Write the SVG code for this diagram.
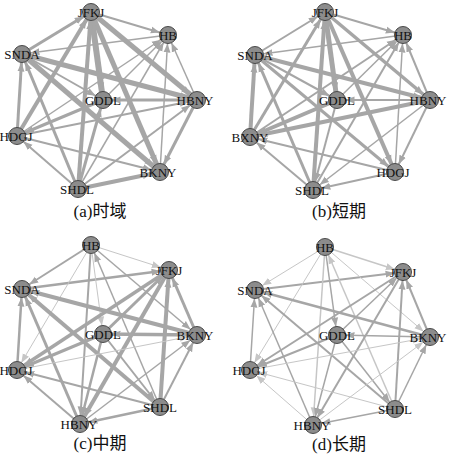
<svg xmlns="http://www.w3.org/2000/svg" width="450" height="454" viewBox="0 0 450 454">
<defs>
<style>
.e{stroke:#a6a6a6;fill:none;marker-end:url(#ar)}
.l{stroke:#c6c6c6;fill:none;marker-end:url(#al)}
.w1{stroke-width:1}.w15{stroke-width:1.5}.w2{stroke-width:2}.w25{stroke-width:2.5}.w3{stroke-width:3}.w35{stroke-width:3.5}.w4{stroke-width:4}.w5{stroke-width:5}.w6{stroke-width:6}
.n circle{fill:#8c8c8c;stroke:#4a4a4a;stroke-width:1}
.n text{font-family:"Liberation Serif","Times New Roman",serif;font-size:13px;fill:#111;text-anchor:middle}
.cap{font-family:"Liberation Serif","Noto Sans CJK SC",serif;font-size:17px;fill:#111;text-anchor:middle}
</style>
<marker id="ar" markerUnits="userSpaceOnUse" markerWidth="10" markerHeight="8" refX="17.5" refY="4" orient="auto"><path d="M0,0.5 L9,4 L0,7.5 z" fill="#a6a6a6"/></marker>
<marker id="al" markerUnits="userSpaceOnUse" markerWidth="10" markerHeight="8" refX="17.5" refY="4" orient="auto"><path d="M0,0.5 L9,4 L0,7.5 z" fill="#c6c6c6"/></marker>
</defs>
<rect width="450" height="454" fill="#fff"/>

<!-- Panel (a) -->
<g id="panel-a">
<g id="edges-a">
<line class="e w3" x1="22" y1="54" x2="91" y2="12"/>
<line class="e w2" x1="91" y1="12" x2="168" y2="35"/>
<line class="e w15" x1="168" y1="35" x2="22" y2="54"/>
<line class="e w5" x1="91" y1="12" x2="197" y2="100"/>
<line class="e w5" x1="91" y1="12" x2="160" y2="172"/>
<line class="e w6" x1="91" y1="12" x2="103" y2="100"/>
<line class="e w4" x1="78" y1="189" x2="91" y2="12"/>
<line class="e w4" x1="17" y1="136" x2="91" y2="12"/>
<line class="e w5" x1="22" y1="54" x2="197" y2="100"/>
<line class="e w5" x1="22" y1="54" x2="160" y2="172"/>
<line class="e w3" x1="78" y1="189" x2="22" y2="54"/>
<line class="e w3" x1="17" y1="136" x2="22" y2="54"/>
<line class="e w2" x1="78" y1="189" x2="17" y2="136"/>
<line class="e w2" x1="17" y1="136" x2="160" y2="172"/>
<line class="e w4" x1="78" y1="189" x2="160" y2="172"/>
<line class="e w3" x1="197" y1="100" x2="160" y2="172"/>
<line class="e w15" x1="160" y1="172" x2="168" y2="35"/>
<line class="e w15" x1="197" y1="100" x2="168" y2="35"/>
<line class="e w15" x1="78" y1="189" x2="168" y2="35"/>
<line class="e w15" x1="17" y1="136" x2="168" y2="35"/>
<line class="e w15" x1="103" y1="100" x2="168" y2="35"/>
<line class="e w2" x1="17" y1="136" x2="197" y2="100"/>
<line class="e w3" x1="197" y1="100" x2="103" y2="100"/>
<line class="e w2" x1="78" y1="189" x2="197" y2="100"/>
<line class="e w3" x1="103" y1="100" x2="17" y2="136"/>
<line class="e w3" x1="78" y1="189" x2="103" y2="100"/>
<line class="e w2" x1="22" y1="54" x2="103" y2="100"/>
</g>
<g id="a-JFKJ" class="n"><circle cx="91" cy="12" r="8.5"/><text x="91" y="17">JFKJ</text></g>
<g id="a-HB" class="n"><circle cx="168" cy="35" r="8.5"/><text x="168" y="40">HB</text></g>
<g id="a-SNDA" class="n"><circle cx="22" cy="54" r="8.5"/><text x="22" y="59">SNDA</text></g>
<g id="a-GDDL" class="n"><circle cx="103" cy="100" r="8.5"/><text x="103" y="105">GDDL</text></g>
<g id="a-HBNY" class="n"><circle cx="197" cy="100" r="8.5"/><text x="195" y="105">HBNY</text></g>
<g id="a-HDGJ" class="n"><circle cx="17" cy="136" r="8.5"/><text x="16" y="141">HDGJ</text></g>
<g id="a-BKNY" class="n"><circle cx="160" cy="172" r="8.5"/><text x="158" y="177">BKNY</text></g>
<g id="a-SHDL" class="n"><circle cx="78" cy="189" r="8.5"/><text x="77" y="194">SHDL</text></g>
<text class="cap" x="100" y="217">(a)时域</text>
</g>

<!-- Panel (b) -->
<g id="panel-b">
<g id="edges-b">
<line class="e w2" x1="255" y1="55" x2="325" y2="12"/>
<line class="e w2" x1="325" y1="12" x2="403" y2="35"/>
<line class="e w15" x1="403" y1="35" x2="255" y2="55"/>
<line class="e w35" x1="325" y1="12" x2="430" y2="100"/>
<line class="e w4" x1="325" y1="12" x2="395" y2="172"/>
<line class="e w5" x1="325" y1="12" x2="337" y2="100"/>
<line class="e w4" x1="313" y1="190" x2="325" y2="12"/>
<line class="e w3" x1="250" y1="137" x2="325" y2="12"/>
<line class="e w4" x1="255" y1="55" x2="430" y2="100"/>
<line class="e w3" x1="255" y1="55" x2="395" y2="172"/>
<line class="e w3" x1="313" y1="190" x2="255" y2="55"/>
<line class="e w4" x1="250" y1="137" x2="255" y2="55"/>
<line class="e w2" x1="313" y1="190" x2="250" y2="137"/>
<line class="e w2" x1="395" y1="172" x2="250" y2="137"/>
<line class="e w2" x1="395" y1="172" x2="313" y2="190"/>
<line class="e w2" x1="430" y1="100" x2="395" y2="172"/>
<line class="e w15" x1="395" y1="172" x2="403" y2="35"/>
<line class="e w2" x1="430" y1="100" x2="403" y2="35"/>
<line class="e w2" x1="313" y1="190" x2="403" y2="35"/>
<line class="e w2" x1="250" y1="137" x2="403" y2="35"/>
<line class="e w4" x1="430" y1="100" x2="250" y2="137"/>
<line class="e w2" x1="430" y1="100" x2="337" y2="100"/>
<line class="e w4" x1="337" y1="100" x2="250" y2="137"/>
<line class="e w15" x1="430" y1="100" x2="313" y2="190"/>
<line class="e w2" x1="337" y1="100" x2="313" y2="190"/>
<line class="e w2" x1="255" y1="55" x2="337" y2="100"/>
<line class="e w15" x1="337" y1="100" x2="403" y2="35"/>
</g>
<g id="b-JFKJ" class="n"><circle cx="325" cy="12" r="8.5"/><text x="325" y="17">JFKJ</text></g>
<g id="b-HB" class="n"><circle cx="403" cy="35" r="8.5"/><text x="403" y="40">HB</text></g>
<g id="b-SNDA" class="n"><circle cx="255" cy="55" r="8.5"/><text x="255" y="60">SNDA</text></g>
<g id="b-GDDL" class="n"><circle cx="337" cy="100" r="8.5"/><text x="337" y="105">GDDL</text></g>
<g id="b-HBNY" class="n"><circle cx="430" cy="100" r="8.5"/><text x="428" y="105">HBNY</text></g>
<g id="b-BXNY" class="n"><circle cx="250" cy="137" r="8.5"/><text x="250" y="142">BXNY</text></g>
<g id="b-HDGJ" class="n"><circle cx="395" cy="172" r="8.5"/><text x="393" y="177">HDGJ</text></g>
<g id="b-SHDL" class="n"><circle cx="313" cy="190" r="8.5"/><text x="312" y="195">SHDL</text></g>
<text class="cap" x="339" y="217">(b)短期</text>
</g>

<!-- Panel (c) -->
<g id="panel-c">
<g id="edges-c">
<line class="l w1" x1="91" y1="245" x2="169" y2="270"/>
<line class="e w2" x1="91" y1="245" x2="22" y2="289"/>
<line class="e w25" x1="22" y1="289" x2="169" y2="270"/>
<line class="e w15" x1="91" y1="245" x2="197" y2="335"/>
<line class="e w15" x1="160" y1="407" x2="91" y2="245"/>
<line class="e w2" x1="91" y1="245" x2="80" y2="424"/>
<line class="l w1" x1="91" y1="245" x2="103" y2="334"/>
<line class="l w1" x1="91" y1="245" x2="17" y2="370"/>
<line class="e w35" x1="169" y1="270" x2="17" y2="370"/>
<line class="e w4" x1="169" y1="270" x2="80" y2="424"/>
<line class="e w4" x1="160" y1="407" x2="169" y2="270"/>
<line class="e w3" x1="197" y1="335" x2="169" y2="270"/>
<line class="e w4" x1="197" y1="335" x2="22" y2="289"/>
<line class="e w4" x1="160" y1="407" x2="22" y2="289"/>
<line class="e w3" x1="80" y1="424" x2="22" y2="289"/>
<line class="e w25" x1="17" y1="370" x2="22" y2="289"/>
<line class="e w35" x1="197" y1="335" x2="103" y2="334"/>
<line class="e w3" x1="103" y1="334" x2="169" y2="270"/>
<line class="e w25" x1="103" y1="334" x2="80" y2="424"/>
<line class="e w2" x1="103" y1="334" x2="160" y2="407"/>
<line class="l w1" x1="17" y1="370" x2="197" y2="335"/>
<line class="e w2" x1="80" y1="424" x2="17" y2="370"/>
<line class="e w2" x1="160" y1="407" x2="17" y2="370"/>
<line class="e w25" x1="160" y1="407" x2="80" y2="424"/>
<line class="e w2" x1="160" y1="407" x2="197" y2="335"/>
<line class="e w15" x1="80" y1="424" x2="197" y2="335"/>
<line class="e w3" x1="103" y1="334" x2="17" y2="370"/>
</g>
<g id="c-HB" class="n"><circle cx="91" cy="245" r="8.5"/><text x="91" y="250">HB</text></g>
<g id="c-JFKJ" class="n"><circle cx="169" cy="270" r="8.5"/><text x="169" y="275">JFKJ</text></g>
<g id="c-SNDA" class="n"><circle cx="22" cy="289" r="8.5"/><text x="22" y="294">SNDA</text></g>
<g id="c-GDDL" class="n"><circle cx="103" cy="334" r="8.5"/><text x="103" y="339">GDDL</text></g>
<g id="c-BKNY" class="n"><circle cx="197" cy="335" r="8.5"/><text x="195" y="340">BKNY</text></g>
<g id="c-HDGJ" class="n"><circle cx="17" cy="370" r="8.5"/><text x="16" y="375">HDGJ</text></g>
<g id="c-SHDL" class="n"><circle cx="160" cy="407" r="8.5"/><text x="160" y="412">SHDL</text></g>
<g id="c-HBNY" class="n"><circle cx="80" cy="424" r="8.5"/><text x="79" y="429">HBNY</text></g>
<text class="cap" x="100" y="449">(c)中期</text>
</g>

<!-- Panel (d) -->
<g id="panel-d">
<g id="edges-d">
<line class="l w15" x1="325" y1="247" x2="403" y2="272"/>
<line class="l w1" x1="325" y1="247" x2="255" y2="290"/>
<line class="e w2" x1="255" y1="290" x2="403" y2="272"/>
<line class="l w1" x1="325" y1="247" x2="430" y2="337"/>
<line class="l w15" x1="395" y1="409" x2="325" y2="247"/>
<line class="l w15" x1="325" y1="247" x2="313" y2="425"/>
<line class="e w15" x1="325" y1="247" x2="337" y2="335"/>
<line class="l w1" x1="325" y1="247" x2="250" y2="370"/>
<line class="e w2" x1="403" y1="272" x2="250" y2="370"/>
<line class="e w2" x1="403" y1="272" x2="313" y2="425"/>
<line class="e w2" x1="395" y1="409" x2="403" y2="272"/>
<line class="e w2" x1="430" y1="337" x2="403" y2="272"/>
<line class="e w25" x1="430" y1="337" x2="255" y2="290"/>
<line class="e w2" x1="395" y1="409" x2="255" y2="290"/>
<line class="e w15" x1="313" y1="425" x2="255" y2="290"/>
<line class="e w15" x1="250" y1="370" x2="255" y2="290"/>
<line class="e w15" x1="430" y1="337" x2="337" y2="335"/>
<line class="e w15" x1="337" y1="335" x2="403" y2="272"/>
<line class="e w15" x1="337" y1="335" x2="313" y2="425"/>
<line class="e w15" x1="337" y1="335" x2="395" y2="409"/>
<line class="l w1" x1="250" y1="370" x2="430" y2="337"/>
<line class="l w1" x1="313" y1="425" x2="250" y2="370"/>
<line class="l w1" x1="395" y1="409" x2="250" y2="370"/>
<line class="e w15" x1="395" y1="409" x2="313" y2="425"/>
<line class="e w15" x1="395" y1="409" x2="430" y2="337"/>
<line class="l w1" x1="313" y1="425" x2="430" y2="337"/>
<line class="e w2" x1="337" y1="335" x2="250" y2="370"/>
</g>
<g id="d-HB" class="n"><circle cx="325" cy="247" r="8.5"/><text x="325" y="252">HB</text></g>
<g id="d-JFKJ" class="n"><circle cx="403" cy="272" r="8.5"/><text x="403" y="277">JFKJ</text></g>
<g id="d-SNDA" class="n"><circle cx="255" cy="290" r="8.5"/><text x="255" y="295">SNDA</text></g>
<g id="d-GDDL" class="n"><circle cx="337" cy="335" r="8.5"/><text x="337" y="340">GDDL</text></g>
<g id="d-BKNY" class="n"><circle cx="430" cy="337" r="8.5"/><text x="428" y="342">BKNY</text></g>
<g id="d-HDGJ" class="n"><circle cx="250" cy="370" r="8.5"/><text x="249" y="375">HDGJ</text></g>
<g id="d-SHDL" class="n"><circle cx="395" cy="409" r="8.5"/><text x="395" y="414">SHDL</text></g>
<g id="d-HBNY" class="n"><circle cx="313" cy="425" r="8.5"/><text x="312" y="430">HBNY</text></g>
<text class="cap" x="339" y="450">(d)长期</text>
</g>
</svg>
